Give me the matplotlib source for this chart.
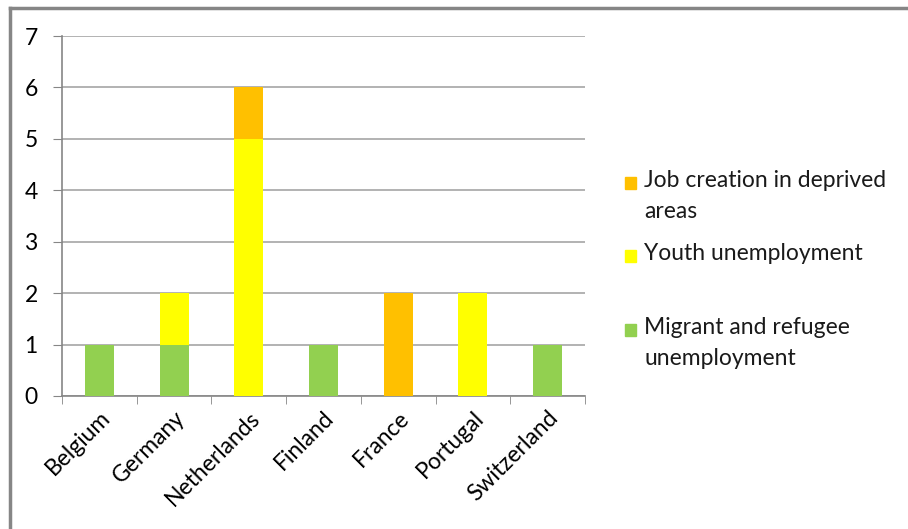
import matplotlib.pyplot as plt
import numpy as np
from matplotlib.lines import Line2D
from matplotlib.patches import Rectangle

plt.rcParams['font.family'] = ['Lato', 'DejaVu Sans']

# Données
countries = ['Belgium', 'Germany', 'Netherlands', 'Finland', 'France', 'Portugal', 'Switzerland']
migrant = [1, 1, 0, 1, 0, 0, 1]
youth = [0, 1, 5, 0, 0, 2, 0]
job_creation = [0, 0, 1, 0, 2, 0, 0]

series_names = ['Migrant and refugee\nunemployment', 'Youth unemployment', 'Job creation in deprived\nareas']
colors = ['#92D050', '#FFFF00', '#FFC000']

fig = plt.figure(figsize=(9.08, 5.29), dpi=100)
ax = fig.add_axes([62/908, 1-396/529, (585-62)/908, (396-36)/529])

x = np.arange(len(countries))
w = 0.39
bottom = np.zeros(len(countries))
for vals, col in zip([migrant, youth, job_creation], colors):
    ax.bar(x, vals, w, bottom=bottom, color=col, zorder=3)
    bottom += np.array(vals)

ax.set_xlim(-0.5, len(countries) - 0.5)
ax.set_ylim(0, 7)
ax.set_yticks(range(8))
ax.yaxis.grid(True, color='#A6A6A6', linewidth=1.2, zorder=0)

ax.set_xticks(x)
ax.set_xticklabels(countries, rotation=45, ha='right', rotation_mode='anchor', fontsize=16.5)
ax.set_xticks(np.arange(-0.5, len(countries)), minor=True)
ax.tick_params(axis='x', which='major', length=0, pad=8)
ax.tick_params(axis='x', which='minor', length=6, color='#868686', direction='out')
ax.tick_params(axis='y', length=6.5, color='#868686', labelsize=16.5, pad=11)

for s in ['top', 'right']:
    ax.spines[s].set_visible(False)
ax.spines['left'].set_color('#868686')
ax.spines['bottom'].set_color('#868686')
ax.spines['left'].set_linewidth(1.2)
ax.spines['bottom'].set_linewidth(1.2)

# Légende manuelle (ordre inversé comme Excel)
legend_y = [183, 256, 330]
for i, (name, col) in enumerate(zip(series_names[::-1], colors[::-1])):
    yc = 1 - legend_y[i]/529
    fig.add_artist(Rectangle((625/908, yc - 6/529), 11/908, 12/529,
                             transform=fig.transFigure, color=col))
    fig.text(644/908, yc + 13/529, name, fontsize=16.5, va='top', ha='left',
             linespacing=1.6, color='#1a1a1a')

# Cadre
fig.add_artist(Line2D([10/908, 1], [1-8/529, 1-8/529], color='#868686', linewidth=2.5,
                      transform=fig.transFigure))
fig.add_artist(Line2D([10/908, 10/908], [0, 1-8/529], color='#868686', linewidth=2.5,
                      transform=fig.transFigure))

fig.savefig('out.png', dpi=100)
